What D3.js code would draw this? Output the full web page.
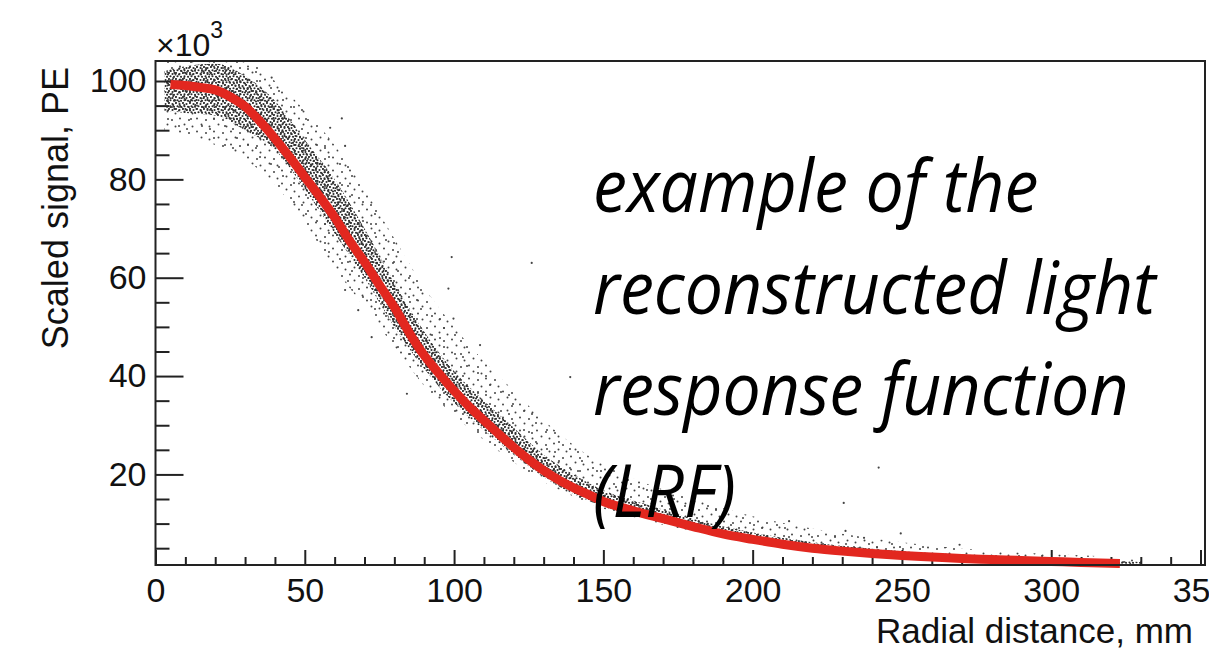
<!DOCTYPE html>
<html>
<head>
<meta charset="utf-8">
<script src="https://cdn.jsdelivr.net/npm/d3@7"></script>
<style>
  body { margin: 0; background: #fff; }
  svg { display: block; }
  .tick text { font-family: "Liberation Sans", Arial, sans-serif; font-size: 34px; fill: #111; }
  .tick line { stroke: #222; stroke-width: 2; }
</style>
</head>
<body>
<div id="chart"></div>
<script>
// fitted LRF curve, signal in units of 10^3 PE
var curveX = [5, 10, 15, 20, 25, 30, 35, 40, 45, 50, 55, 60, 65, 70, 75, 80, 85, 90, 95, 100,
  105, 110, 115, 120, 125, 130, 135, 140, 145, 150, 160, 170, 180, 190, 200, 210, 220, 230,
  240, 250, 260, 270, 280, 290, 300, 310, 323];
var curveY = [99.3, 99.1, 98.7, 98.2, 96.8, 94.8, 91.8, 88.3, 84.5, 80.5, 76.5, 72.3, 67.5, 63.2, 58.5,
  54.0, 48.8, 44.2, 40.5, 37.0, 33.8, 31.0, 28.2, 25.5, 23.0, 20.8, 18.9, 17.3, 15.9, 14.5,
  12.6, 11.0, 9.4, 7.9, 6.8, 5.8, 5.0, 4.4, 3.9, 3.5, 3.2, 2.9, 2.7, 2.5, 2.3, 2.1, 1.9];

// envelope of the event cloud (dense core and sparse halo)
var bandX  = [3, 10, 20, 30, 40, 50, 60, 70, 80, 90, 100, 110, 120, 130, 140, 150, 165, 180, 200, 220, 240, 260, 280, 300, 320, 330];
var coreLo = [94, 93.5, 93, 90, 86, 78, 69, 60, 50, 41.5, 34.5, 29, 24, 19.5, 16, 13.5, 11, 8.8, 6.4, 4.7, 3.6, 3.0, 2.5, 2.1, 1.8, 1.7];
var coreHi = [102, 103, 103.5, 101, 96, 88, 80, 70, 59, 49, 41, 35, 29.5, 24, 20, 16.8, 13.8, 11, 8.2, 6.2, 4.9, 4.0, 3.4, 2.9, 2.5, 2.2];
var haloLo = [90, 89, 87, 84, 79, 71, 62, 54, 46, 38, 32, 27, 22.5, 18.5, 15.5, 13, 10.5, 8.5, 6.2, 4.6, 3.6, 3.0, 2.5, 2.2, 1.9, 1.8];
var haloHi = [104, 104, 104, 104, 100, 94, 87, 78, 68, 58, 50, 43, 37, 31, 26, 22, 18, 15, 11.5, 9, 7, 5.5, 4.5, 3.8, 3.2, 2.6];

// isolated events away from the band
var outX = [38.9, 58.5, 62.4, 63.5, 99.2, 126, 108.7, 138.9, 98.1, 99.8, 63.5, 67.9, 72.4, 84.2,
  242.2, 230.5, 212.2, 231.1, 249.6, 269.3, 237.3];
var outY = [100.7, 90.5, 92.4, 86.8, 64.2, 63, 46.3, 39.8, 57.8, 51.7, 57.5, 53.4, 47.9, 36.4,
  21.4, 14.2, 10.5, 8.5, 8.0, 5.7, 7.1];

var xTicks = [0, 50, 100, 150, 200, 250, 300, 350];
var yTicks = [20, 40, 60, 80, 100];

var svgWidth = 1209;
var svgHeight = 649;

var frame = { left: 155.5, right: 1205, top: 61, bottom: 565 };

var svg = d3.select("#chart")
  .append("svg")
  .attr("width", svgWidth)
  .attr("height", svgHeight);

var x = d3.scaleLinear().domain([0, 351.5]).range([frame.left, frame.right]);
var y = d3.scaleLinear().domain([1.58, 104.07]).range([frame.bottom, frame.top]);

// dot textures for the event cloud (two periods overlaid so it looks less regular)
var defs = svg.append("defs");
function dotPattern(id, w, h, dots, r, color) {
  var p = defs.append("pattern").attr("id", id)
    .attr("patternUnits", "userSpaceOnUse").attr("width", w).attr("height", h);
  dots.forEach(function(d) {
    p.append("circle").attr("cx", d[0]).attr("cy", d[1]).attr("r", r).attr("fill", color);
  });
}
dotPattern("coreA", 7, 6, [[1, 1], [4.5, 2], [2.5, 4.2], [6, 4.8]], 1.05, "#2a2a2a");
dotPattern("coreB", 11, 9, [[3, 2.5], [8.2, 6.1], [5.6, 8.2], [9.5, 1]], 1.05, "#333");
dotPattern("haloA", 17, 13, [[2, 3], [10, 1.5], [14.5, 7.5], [5.5, 9.5]], 1.0, "#444");
dotPattern("haloB", 23, 19, [[7, 5], [18, 12], [3, 15]], 1.0, "#444");

defs.append("clipPath").attr("id", "frameClip")
  .append("rect").attr("x", frame.left).attr("y", frame.top)
  .attr("width", frame.right - frame.left).attr("height", frame.bottom - frame.top);

var inner = svg.append("g").attr("clip-path", "url(#frameClip)");

function band(lo, hi) {
  return d3.area()
    .x(function(d, i) { return x(bandX[i]); })
    .y0(function(d, i) { return y(lo[i]); })
    .y1(function(d, i) { return y(hi[i]); })
    .curve(d3.curveMonotoneX);
}
["haloA", "haloB"].forEach(function(id) {
  inner.append("path").datum(bandX).attr("d", band(haloLo, haloHi)).attr("fill", "url(#" + id + ")");
});
["coreA", "coreB"].forEach(function(id) {
  inner.append("path").datum(bandX).attr("d", band(coreLo, coreHi)).attr("fill", "url(#" + id + ")");
});

inner.selectAll("circle.out")
  .data(outX)
  .enter()
  .append("circle")
  .attr("class", "out")
  .attr("cx", function(d) { return x(d); })
  .attr("cy", function(d, i) { return y(outY[i]); })
  .attr("r", 1.1)
  .attr("fill", "#444");

// axes (ROOT style: ticks inside the frame)
svg.append("g")
  .attr("transform", "translate(0," + frame.bottom + ")")
  .call(d3.axisBottom(x).tickValues(xTicks).tickSize(-15).tickPadding(13).tickFormat(d3.format("d")));
svg.append("g")
  .attr("transform", "translate(0," + frame.bottom + ")")
  .call(d3.axisBottom(x).tickValues(d3.range(10, 351, 10).filter(function(v) { return v % 50; }))
    .tickSize(-8).tickFormat(""));
svg.append("g")
  .attr("transform", "translate(" + frame.left + ",0)")
  .call(d3.axisLeft(y).tickValues(yTicks).tickSize(-28).tickPadding(9).tickFormat(d3.format("d")));
svg.append("g")
  .attr("transform", "translate(" + frame.left + ",0)")
  .call(d3.axisLeft(y).tickValues(d3.range(5, 104, 5).filter(function(v) { return v % 20; }))
    .tickSize(-14).tickFormat(""));
svg.selectAll(".domain").remove();

// fitted curve on top of the data
var line = d3.line()
  .x(function(d, i) { return x(curveX[i]); })
  .y(function(d, i) { return y(curveY[i]); })
  .curve(d3.curveMonotoneX);
svg.append("path").datum(curveX)
  .attr("d", line)
  .attr("fill", "none")
  .attr("stroke", "#e2271f")
  .attr("stroke-width", 9);

svg.append("rect")
  .attr("x", frame.left).attr("y", frame.top)
  .attr("width", frame.right - frame.left).attr("height", frame.bottom - frame.top)
  .attr("fill", "none").attr("stroke", "#222").attr("stroke-width", 2);

// axis titles
svg.append("text")
  .attr("x", 1193).attr("y", 643)
  .attr("text-anchor", "end")
  .style("font-family", "Liberation Sans, Arial, sans-serif")
  .style("font-size", "35px")
  .attr("fill", "#111")
  .text("Radial distance, mm");

svg.append("text")
  .attr("transform", "translate(68,67) rotate(-90)")
  .attr("text-anchor", "end")
  .style("font-family", "Liberation Sans, Arial, sans-serif")
  .style("font-size", "36px")
  .attr("fill", "#111")
  .text("Scaled signal, PE");

var mult = svg.append("text")
  .attr("x", 156).attr("y", 56)
  .style("font-family", "Liberation Sans, Arial, sans-serif")
  .style("font-size", "32px")
  .attr("fill", "#111");
mult.append("tspan").text("\u00d710");
mult.append("tspan").attr("dy", -18).style("font-size", "23px").text("3");

// annotation
var note = ["example of the", "reconstructed light", "response function", "(LRF)"];
svg.append("g").selectAll("text")
  .data(note)
  .enter()
  .append("text")
  .attr("transform", function(d, i) { return "translate(593," + (212 + i * 101.7) + ") scale(0.92,1)"; })
  .style("font-family", "Open Sans, Noto Sans, sans-serif")
  .style("font-style", "italic")
  .style("font-size", "74px")
  .attr("fill", "#000")
  .text(function(d) { return d; });
</script>
</body>
</html>
